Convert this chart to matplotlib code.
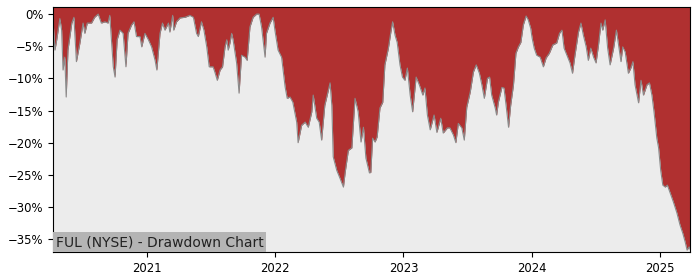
import matplotlib
matplotlib.use("Agg")
import matplotlib.pyplot as plt
import matplotlib.dates as mdates
from matplotlib.ticker import FuncFormatter
import pandas as pd

# drawdown series (percent below running peak)
dates = [
    "2020-04-09", "2020-04-14", "2020-04-19", "2020-04-28", "2020-05-03", "2020-05-07",
    "2020-05-12", "2020-05-16", "2020-05-21", "2020-06-01", "2020-06-07", "2020-06-14",
    "2020-06-24", "2020-07-03", "2020-07-08", "2020-07-15", "2020-07-27", "2020-08-05",
    "2020-08-15", "2020-08-24", "2020-09-03", "2020-09-12", "2020-09-17", "2020-09-27",
    "2020-10-02", "2020-10-08", "2020-10-16", "2020-10-25", "2020-11-02", "2020-11-08",
    "2020-11-18", "2020-11-25", "2020-12-02", "2020-12-12", "2020-12-17", "2020-12-26",
    "2021-01-05", "2021-01-14", "2021-01-24", "2021-01-29", "2021-02-07", "2021-02-14",
    "2021-02-21", "2021-03-03", "2021-03-07", "2021-03-15", "2021-03-18", "2021-03-26",
    "2021-04-05", "2021-04-19", "2021-05-03", "2021-05-13", "2021-05-22", "2021-05-27",
    "2021-06-05", "2021-06-12", "2021-06-20", "2021-06-27", "2021-07-08", "2021-07-13",
    "2021-07-20", "2021-07-28", "2021-08-04", "2021-08-11", "2021-08-16", "2021-08-20",
    "2021-08-25", "2021-08-30", "2021-09-03", "2021-09-13", "2021-09-20", "2021-09-27",
    "2021-10-07", "2021-10-13", "2021-10-21", "2021-10-30", "2021-11-09", "2021-11-16",
    "2021-11-23", "2021-12-03", "2021-12-07", "2021-12-17", "2021-12-26", "2021-12-31",
    "2022-01-09", "2022-01-19", "2022-01-29", "2022-02-04", "2022-02-12", "2022-02-20",
    "2022-03-03", "2022-03-07", "2022-03-17", "2022-03-27", "2022-04-05", "2022-04-15",
    "2022-04-19", "2022-04-29", "2022-05-06", "2022-05-13", "2022-05-22", "2022-05-29",
    "2022-06-06", "2022-06-11", "2022-06-15", "2022-06-25", "2022-07-04", "2022-07-14",
    "2022-07-19", "2022-07-28", "2022-08-07", "2022-08-16", "2022-08-25", "2022-09-02",
    "2022-09-09", "2022-09-16", "2022-09-26", "2022-09-30", "2022-10-05", "2022-10-12",
    "2022-10-18", "2022-10-26", "2022-11-03", "2022-11-09", "2022-11-19", "2022-11-26",
    "2022-12-01", "2022-12-08", "2022-12-14", "2022-12-22", "2022-12-29", "2023-01-05",
    "2023-01-12", "2023-01-20", "2023-01-27", "2023-02-06", "2023-02-15", "2023-02-25",
    "2023-03-03", "2023-03-10", "2023-03-18", "2023-03-29", "2023-04-06", "2023-04-17",
    "2023-04-24", "2023-05-06", "2023-05-13", "2023-05-23", "2023-05-30", "2023-06-06",
    "2023-06-16", "2023-06-23", "2023-06-30", "2023-07-10", "2023-07-19", "2023-07-27",
    "2023-08-05", "2023-08-12", "2023-08-19", "2023-08-28", "2023-09-03", "2023-09-09",
    "2023-09-19", "2023-09-23", "2023-09-28", "2023-10-08", "2023-10-14", "2023-10-20",
    "2023-10-27", "2023-11-02", "2023-11-10", "2023-11-17", "2023-11-24", "2023-12-01",
    "2023-12-08", "2023-12-16", "2023-12-22", "2023-12-29", "2024-01-02", "2024-01-08",
    "2024-01-15", "2024-01-25", "2024-02-03", "2024-02-11", "2024-02-20", "2024-03-01",
    "2024-03-12", "2024-03-20", "2024-03-27", "2024-04-02", "2024-04-10", "2024-04-19",
    "2024-04-26", "2024-05-03", "2024-05-13", "2024-05-20", "2024-05-27", "2024-06-04",
    "2024-06-10", "2024-06-17", "2024-06-25", "2024-07-02", "2024-07-09", "2024-07-16",
    "2024-07-21", "2024-07-28", "2024-08-04", "2024-08-11", "2024-08-21", "2024-08-29",
    "2024-09-04", "2024-09-11", "2024-09-16", "2024-09-23", "2024-10-02", "2024-10-09",
    "2024-10-15", "2024-10-21", "2024-10-31", "2024-11-07", "2024-11-14", "2024-11-24",
    "2024-12-01", "2024-12-08", "2024-12-14", "2024-12-22", "2024-12-27", "2025-01-02",
    "2025-01-08", "2025-01-15", "2025-01-21", "2025-01-29", "2025-02-07", "2025-02-17",
    "2025-02-26", "2025-03-06", "2025-03-13", "2025-03-18", "2025-03-24", "2025-03-27",
]
drawdown = [
    -1.4, -5.6, -4.0, -0.7, -2.5, -8.7,
    -6.7, -12.9, -5.6, -1.4, -0.5, -7.4,
    -4.5, -1.4, -3.0, -1.4, -1.4, -0.5,
    0.0, -1.4, -1.2, -1.4, -0.2, -8.2,
    -9.8, -4.0, -2.5, -3.0, -8.2, -3.0,
    -1.7, -1.2, -3.5, -3.5, -5.1, -3.0,
    -4.0, -5.1, -7.2, -8.7, -3.0, -1.4,
    -2.5, -1.4, -2.8, -0.2, -2.5, -1.2,
    -0.6, -0.5, -0.2, -0.5, -3.0, -3.5,
    -1.2, -2.5, -5.1, -8.2, -8.2, -9.0,
    -10.3, -8.7, -8.2, -5.1, -4.0, -5.6,
    -4.5, -3.0, -4.0, -7.6, -12.3, -6.4,
    -6.7, -7.2, -2.0, -0.5, 0.0, 0.0,
    -2.0, -6.7, -3.0, -1.4, -0.5, -2.5,
    -5.6, -6.7, -11.3, -13.1, -12.9, -13.7,
    -16.8, -20.0, -17.3, -16.8, -17.6, -15.2,
    -12.6, -16.2, -16.8, -19.6, -14.2, -12.6,
    -10.7, -14.2, -22.2, -24.3, -25.5, -26.9,
    -24.6, -21.2, -20.8, -13.1, -15.2, -19.9,
    -17.6, -22.4, -24.7, -24.6, -19.3, -19.9,
    -19.1, -14.6, -13.7, -7.9, -5.3, -2.8,
    -1.2, -3.3, -4.4, -7.9, -9.8, -10.3,
    -8.4, -12.6, -15.2, -9.8, -11.0, -12.6,
    -11.5, -15.7, -18.0, -15.7, -18.4, -16.2,
    -18.5, -17.7, -17.7, -18.8, -20.0, -17.0,
    -17.7, -19.6, -14.5, -12.1, -9.0, -7.9,
    -9.2, -11.0, -13.1, -10.0, -9.8, -12.6,
    -14.6, -15.7, -13.7, -11.4, -11.5, -14.2,
    -17.6, -14.2, -11.0, -6.1, -5.1, -4.4,
    -1.7, -0.3, -0.9, -2.2, -3.7, -5.3,
    -6.4, -6.7, -8.2, -6.8, -6.1, -4.8,
    -4.5, -3.0, -2.5, -5.3, -6.4, -7.6,
    -9.2, -6.4, -2.8, -1.4, -3.3, -5.1,
    -7.2, -5.3, -6.7, -7.6, -4.8, -1.4,
    -2.5, -0.9, -5.3, -7.9, -5.3, -2.5,
    -4.8, -7.4, -5.1, -5.9, -9.2, -8.4,
    -7.4, -11.0, -13.8, -10.3, -12.6, -11.0,
    -10.7, -12.6, -15.2, -19.3, -20.8, -24.3,
    -26.6, -26.9, -26.6, -27.8, -29.2, -30.9,
    -32.8, -34.1, -35.5, -36.7, -36.2, -36.6,
]
title = "FUL (NYSE) - Drawdown Chart"

x = pd.to_datetime(dates)
top = 1.1

fig = plt.figure(figsize=(7, 2.8), dpi=100)
ax = fig.add_axes([0.076, 0.1, 0.91, 0.875])
ax.set_facecolor("#ececec")

ax.fill_between(x, drawdown, top, color="#b03030", linewidth=0)
ax.plot(x, drawdown, color="#8a8a8a", linewidth=0.8)

ax.set_xlim(x[0], x[-1])
ax.set_ylim(-37.0, top)
ax.set_yticks(range(0, -40, -5))
ax.yaxis.set_major_formatter(FuncFormatter(lambda v, p: f"{v:.0f}%".replace("-", "\u2212")))
ax.xaxis.set_major_locator(mdates.YearLocator())
ax.xaxis.set_major_formatter(mdates.DateFormatter("%Y"))
ax.tick_params(labelsize=8.4)

ax.text(0.004, 0.012, title, transform=ax.transAxes, fontsize=10,
        color="#222222", ha="left", va="bottom",
        bbox=dict(facecolor="#b4b4b4", edgecolor="none", pad=2.0))

fig.savefig("out.png")
